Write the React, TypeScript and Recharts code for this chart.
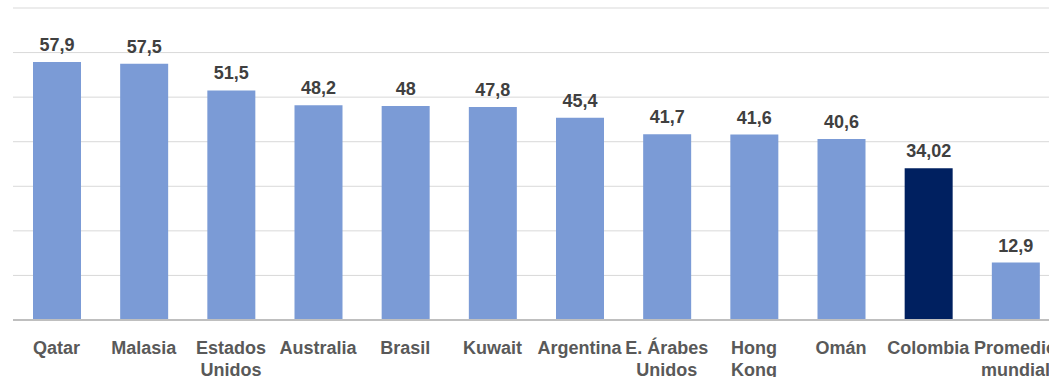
import { BarChart, Bar, XAxis, YAxis, CartesianGrid, LabelList, Cell } from 'recharts';

const countries = [
  'Qatar',
  'Malasia',
  'Estados Unidos',
  'Australia',
  'Brasil',
  'Kuwait',
  'Argentina',
  'E. Árabes Unidos',
  'Hong Kong',
  'Omán',
  'Colombia',
  'Promedio mundial',
];
const values = [57.9, 57.5, 51.5, 48.2, 48, 47.8, 45.4, 41.7, 41.6, 40.6, 34.02, 12.9];
const highlight = 'Colombia';
const yTicks = [0, 10, 20, 30, 40, 50, 60, 70];

// labels that break onto two lines
const lineBreaks: Record<string, string[]> = {
  'Estados Unidos': ['Estados', 'Unidos'],
  'E. Árabes Unidos': ['E. Árabes', 'Unidos'],
  'Hong Kong': ['Hong', 'Kong'],
  'Promedio mundial': ['Promedio', 'mundial'],
};

const data = countries.map((name, i) => ({ name, value: values[i] }));

const font = '"Liberation Sans", Arial, sans-serif';

function CountryTick(props: any) {
  const { x, y, payload } = props;
  const lines = lineBreaks[payload.value] || [payload.value];
  return (
    <g transform={`translate(${x},${y})`}>
      {lines.map((l, i) => (
        <text
          key={i}
          x={0}
          y={0}
          dy={26 + i * 22}
          textAnchor="middle"
          fill="#595959"
          fontSize={18}
          fontWeight="bold"
          fontFamily={font}
        >
          {l}
        </text>
      ))}
    </g>
  );
}

export default function App() {
  return (
    <div
      style={{
        position: 'fixed',
        top: 0,
        left: 0,
        width: 1049,
        height: 377,
        overflow: 'hidden',
        background: '#fff',
      }}
    >
      <BarChart
        width={1059}
        height={377}
        data={data}
        margin={{ top: 8, right: 0, left: 13, bottom: 0 }}
        barSize={48}
      >
        <CartesianGrid vertical={false} stroke="#d9d9d9" />
        <XAxis
          dataKey="name"
          interval={0}
          height={57}
          tickLine={false}
          axisLine={{ stroke: '#bfbfbf', strokeWidth: 2 }}
          tick={<CountryTick />}
        />
        <YAxis hide domain={[0, 70]} ticks={yTicks} />
        <Bar dataKey="value" isAnimationActive={false}>
          {data.map((d) => (
            <Cell key={d.name} fill={d.name === highlight ? '#002060' : '#7b9bd6'} />
          ))}
          <LabelList
            dataKey="value"
            position="top"
            offset={11}
            formatter={(v: any) => String(v).replace('.', ',')}
            fill="#404040"
            fontSize={18}
            fontWeight="bold"
            fontFamily={font}
          />
        </Bar>
      </BarChart>
    </div>
  );
}
